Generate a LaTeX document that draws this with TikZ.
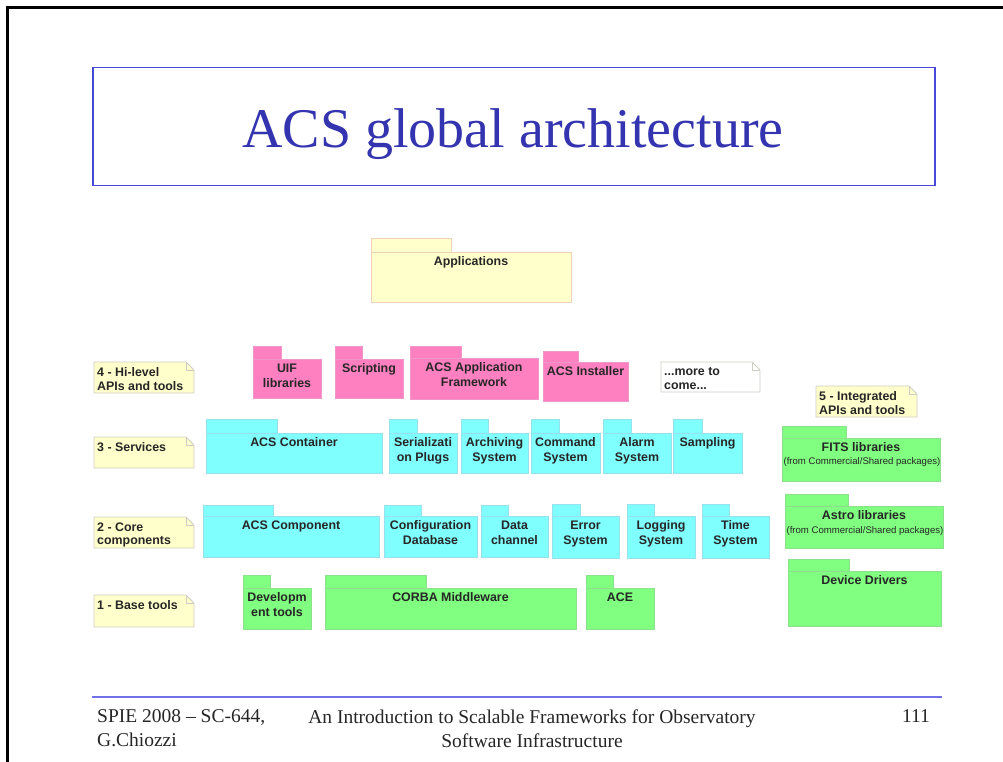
\documentclass[tikz,border=0pt]{standalone}
\usepackage{fontspec}
\setmainfont{Liberation Serif}
\newfontfamily\arial{Liberation Sans}
\definecolor{titleblue}{RGB}{72,72,216}
\definecolor{titletext}{RGB}{52,52,176}
\definecolor{footblue}{RGB}{112,112,232}
\definecolor{pkpink}{RGB}{255,128,192}
\definecolor{pkpinkb}{RGB}{240,150,200}
\definecolor{pkcyan}{RGB}{128,255,255}
\definecolor{pkcyanb}{RGB}{150,225,235}
\definecolor{pkgreen}{RGB}{128,255,128}
\definecolor{pkgreenb}{RGB}{140,225,140}
\definecolor{pkyellow}{RGB}{255,255,204}
\definecolor{pkyellowb}{RGB}{240,210,185}
\definecolor{notebord}{RGB}{205,205,195}
\tikzset{
  pinkpkg/.style={fill=pkpink, draw=pkpinkb, line width=0.8pt},
  cyanpkg/.style={fill=pkcyan, draw=pkcyanb, line width=0.8pt},
  greenpkg/.style={fill=pkgreen, draw=pkgreenb, line width=0.8pt},
  yellowpkg/.style={fill=pkyellow, draw=pkyellowb, line width=0.8pt},
  pkgtext/.style={font=\arial\bfseries\fontsize{12.4}{15}\selectfont, align=center, inner sep=0pt, text=black!85},
  subtext/.style={font=\arial\fontsize{9.6}{11}\selectfont, inner sep=0pt, text=black!85},
  notebody/.style={draw=notebord, line width=0.8pt},
  notetext/.style={font=\arial\bfseries\fontsize{12.4}{13.5}\selectfont, align=left, inner sep=0pt, text=black!85},
  foottext/.style={font=\fontsize{19.5}{24}\selectfont, inner sep=0pt, text=black!85},
}
\newcommand{\pkgbox}[9]{%
  \path[#2] (#3,#5) rectangle (#4,#6);
  \path[#2] (#3,#6) rectangle (#7,#8);
  \node[pkgtext, anchor=north] (#1) at ({(#3+#7)/2}, #6+4.5) {#9};
}
\newcommand{\notebox}[7]{%
  \path[notebody, fill=#2] (#3,#4) -- (#5-8,#4) -- (#5,#4+8) -- (#5,#6) -- (#3,#6) -- cycle;
  \draw[notebord, line width=0.6pt] (#5-8,#4) -- (#5-8,#4+8) -- (#5,#4+8);
  \node[notetext, anchor=north west] (#1) at (#3+3, #4+5.5) {#7};
}
\begin{document}
\begin{tikzpicture}[x=1pt,y=-1pt]
\useasboundingbox (0,0) rectangle (1003,762);
\fill[white] (0,0) rectangle (1003,762);
% slide frame
\draw[line width=3pt] (7,762) -- (7,8) -- (1003,8);
% title
\node[draw=titleblue, line width=1.5pt, minimum width=842pt, minimum height=118pt, anchor=north west, inner sep=0pt] (titlebox) at (92,67) {};
\node[font=\fontsize{56}{60}\selectfont, text=titletext, anchor=base, inner sep=0pt] (title) at (513,148) {ACS global architecture};
% applications
\pkgbox{apps}{yellowpkg}{371}{451}{238}{252}{571}{302}{Applications}
% layer 4
\pkgbox{uif}{pinkpkg}{253}{281}{346}{359}{321}{398}{UIF\\libraries}
\pkgbox{scripting}{pinkpkg}{335}{362}{346}{359}{403}{398}{Scripting}
\pkgbox{appfw}{pinkpkg}{410}{461}{346}{358}{538}{399}{ACS Application\\Framework}
\pkgbox{installer}{pinkpkg}{543}{578}{351}{362}{628}{401}{ACS Installer}
% layer 3
\pkgbox{container}{cyanpkg}{206}{277}{419}{433}{382}{473}{ACS Container}
\pkgbox{serial}{cyanpkg}{389}{417}{419}{433}{457}{473}{Serializati\\on Plugs}
\pkgbox{archiving}{cyanpkg}{461}{488}{419}{433}{528}{473}{Archiving\\System}
\pkgbox{command}{cyanpkg}{531}{559}{419}{433}{600}{473}{Command\\System}
\pkgbox{alarm}{cyanpkg}{603}{631}{419}{433}{671}{473}{Alarm\\System}
\pkgbox{sampling}{cyanpkg}{673}{702}{419}{433}{742}{473}{Sampling}
% layer 2
\pkgbox{component}{cyanpkg}{203}{273}{505}{516}{379}{557}{ACS Component}
\pkgbox{cdb}{cyanpkg}{384}{421}{505}{516}{477}{557}{Configuration\\Database}
\pkgbox{datach}{cyanpkg}{481}{508}{505}{516}{548}{557}{Data\\channel}
\pkgbox{error}{cyanpkg}{552}{580}{504}{516}{619}{558}{Error\\System}
\pkgbox{logging}{cyanpkg}{627}{654}{504}{516}{695}{558}{Logging\\System}
\pkgbox{time}{cyanpkg}{702}{729}{504}{516}{769}{558}{Time\\System}
% layer 1
\pkgbox{devtools}{greenpkg}{243}{270}{575}{588}{311}{629}{Developm\\ent tools}
\pkgbox{corba}{greenpkg}{325}{426}{575}{588}{576}{629}{CORBA Middleware}
\pkgbox{ace}{greenpkg}{586}{613}{575}{588}{654}{629}{ACE}
% layer 5
\pkgbox{fits}{greenpkg}{782}{846}{426}{438}{940}{481}{FITS libraries}
\node[subtext, anchor=base] (fitssub) at (862,464.5) {(from Commercial/Shared packages)};
\pkgbox{astro}{greenpkg}{785}{848}{494}{506}{943}{548}{Astro libraries}
\node[subtext, anchor=base] (astrosub) at (865,533.5) {(from Commercial/Shared packages)};
\pkgbox{drivers}{greenpkg}{788}{849}{559}{571}{941}{626}{Device Drivers}
% notes
\notebox{n4}{pkyellow}{94}{362}{194}{393}{4 - Hi-level\\APIs and tools}
\notebox{n3}{pkyellow}{94}{437}{194}{468}{3 - Services}
\notebox{n2}{pkyellow}{94}{517}{194}{548}{2 - Core\\components}
\notebox{n1}{pkyellow}{94}{595}{194}{627}{1 - Base tools}
\notebox{more}{white}{661}{362}{760}{392}{...more to\\come...}
\notebox{n5}{pkyellow}{816}{386}{917}{417}{5 - Integrated\\APIs and tools}
% footer
\draw[footblue, line width=2pt] (92,697) -- (942,697);
\node[foottext, anchor=north west, align=left] (footl) at (97,709.5) {SPIE 2008 – SC-644,\\G.Chiozzi};
\node[foottext, anchor=north, align=center] (footc) at (532,709.5) {An Introduction to Scalable Frameworks for Observatory\\Software Infrastructure};
\node[foottext, anchor=base east] (footr) at (930,722.5) {111};
\end{tikzpicture}
\end{document}
